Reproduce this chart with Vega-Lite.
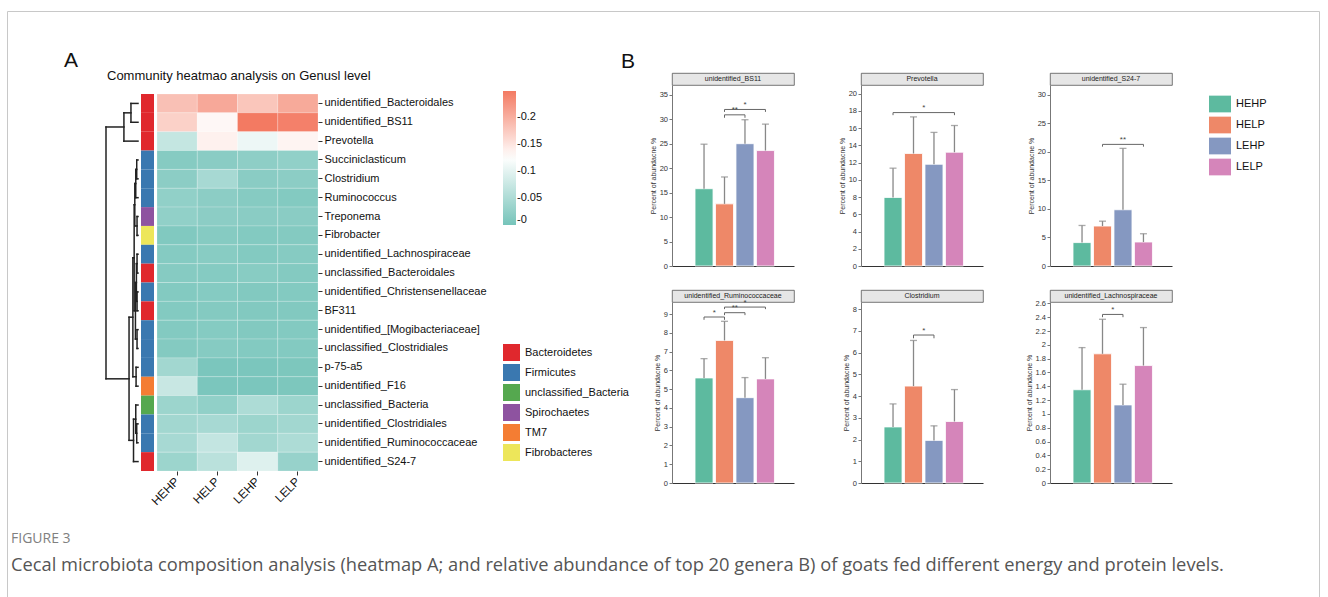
{
"$schema":"https://vega.github.io/schema/vega-lite/v6.json",
"background":"white",
"padding":{"left":6,"top":10,"right":0,"bottom":0},
"autosize":{"type":"pad"},
"config":{
 "view":{"stroke":null},
 "font":"Liberation Sans",
 "axis":{"grid":false,"labelFont":"Liberation Sans","titleFont":"Liberation Sans"},
 "axisLeft":{"domainColor":"#777777","tickColor":"#777777","tickSize":3,"labelFontSize":7.5,"labelColor":"#333333","titleFontSize":7,"titleFontWeight":"normal","titleColor":"#333333","titlePadding":3,"labelPadding":1.5,"labelOverlap":false,"tickCount":40,"labelExpr":"'' + datum.value"},
 "legend":{"labelFont":"Liberation Sans"},
 "title":{"font":"Liberation Sans"}
},
"datasets":{
 "bars":[
  {"genus":"unidentified_BS11","group":"HEHP","gi":0,"mean":15.8,"upper":24.9},
  {"genus":"unidentified_BS11","group":"HELP","gi":1,"mean":12.7,"upper":18.2},
  {"genus":"unidentified_BS11","group":"LEHP","gi":2,"mean":25.0,"upper":29.9},
  {"genus":"unidentified_BS11","group":"LELP","gi":3,"mean":23.6,"upper":29.0},
  {"genus":"Prevotella","group":"HEHP","gi":0,"mean":7.95,"upper":11.35},
  {"genus":"Prevotella","group":"HELP","gi":1,"mean":13.05,"upper":17.3},
  {"genus":"Prevotella","group":"LEHP","gi":2,"mean":11.8,"upper":15.5},
  {"genus":"Prevotella","group":"LELP","gi":3,"mean":13.2,"upper":16.3},
  {"genus":"unidentified_S24-7","group":"HEHP","gi":0,"mean":4.1,"upper":7.1},
  {"genus":"unidentified_S24-7","group":"HELP","gi":1,"mean":7.0,"upper":7.85},
  {"genus":"unidentified_S24-7","group":"LEHP","gi":2,"mean":9.85,"upper":20.6},
  {"genus":"unidentified_S24-7","group":"LELP","gi":3,"mean":4.2,"upper":5.65},
  {"genus":"unidentified_Ruminococcaceae","group":"HEHP","gi":0,"mean":5.6,"upper":6.63},
  {"genus":"unidentified_Ruminococcaceae","group":"HELP","gi":1,"mean":7.6,"upper":8.62},
  {"genus":"unidentified_Ruminococcaceae","group":"LEHP","gi":2,"mean":4.55,"upper":5.62},
  {"genus":"unidentified_Ruminococcaceae","group":"LELP","gi":3,"mean":5.55,"upper":6.68},
  {"genus":"Clostridium","group":"HEHP","gi":0,"mean":2.58,"upper":3.64},
  {"genus":"Clostridium","group":"HELP","gi":1,"mean":4.46,"upper":6.56},
  {"genus":"Clostridium","group":"LEHP","gi":2,"mean":1.96,"upper":2.63},
  {"genus":"Clostridium","group":"LELP","gi":3,"mean":2.83,"upper":4.3},
  {"genus":"unidentified_Lachnospiraceae","group":"HEHP","gi":0,"mean":1.35,"upper":1.96},
  {"genus":"unidentified_Lachnospiraceae","group":"HELP","gi":1,"mean":1.87,"upper":2.37},
  {"genus":"unidentified_Lachnospiraceae","group":"LEHP","gi":2,"mean":1.13,"upper":1.43},
  {"genus":"unidentified_Lachnospiraceae","group":"LELP","gi":3,"mean":1.70,"upper":2.25}
 ],
 "sig":[
  {"genus":"unidentified_BS11","x1":1,"x2":2,"xm":1.5,"yb":30.9,"yt":30.3,"label":"**"},
  {"genus":"unidentified_BS11","x1":1,"x2":3,"xm":2,"yb":32.0,"yt":31.5,"label":"*"},
  {"genus":"Prevotella","x1":0,"x2":3,"xm":1.5,"yb":17.8,"yt":17.5,"label":"*"},
  {"genus":"unidentified_S24-7","x1":1,"x2":3,"xm":2,"yb":21.3,"yt":20.9,"label":"**"},
  {"genus":"unidentified_Ruminococcaceae","x1":0,"x2":1,"xm":0.5,"yb":8.85,"yt":8.7,"label":"*"},
  {"genus":"unidentified_Ruminococcaceae","x1":1,"x2":2,"xm":1.5,"yb":9.08,"yt":8.95,"label":"**"},
  {"genus":"unidentified_Ruminococcaceae","x1":1,"x2":3,"xm":2,"yb":9.38,"yt":9.27,"label":"*"},
  {"genus":"Clostridium","x1":1,"x2":2,"xm":1.5,"yb":6.81,"yt":6.66,"label":"*"},
  {"genus":"unidentified_Lachnospiraceae","x1":1,"x2":2,"xm":1.5,"yb":2.44,"yt":2.40,"label":"*"}
 ],
 "phylum":[
  {"genus":"unidentified_Bacteroidales","phylum":"Bacteroidetes"},
  {"genus":"unidentified_BS11","phylum":"Bacteroidetes"},
  {"genus":"Prevotella","phylum":"Bacteroidetes"},
  {"genus":"Succiniclasticum","phylum":"Firmicutes"},
  {"genus":"Clostridium","phylum":"Firmicutes"},
  {"genus":"Ruminococcus","phylum":"Firmicutes"},
  {"genus":"Treponema","phylum":"Spirochaetes"},
  {"genus":"Fibrobacter","phylum":"Fibrobacteres"},
  {"genus":"unidentified_Lachnospiraceae","phylum":"Firmicutes"},
  {"genus":"unclassified_Bacteroidales","phylum":"Bacteroidetes"},
  {"genus":"unidentified_Christensenellaceae","phylum":"Firmicutes"},
  {"genus":"BF311","phylum":"Bacteroidetes"},
  {"genus":"unidentified_[Mogibacteriaceae]","phylum":"Firmicutes"},
  {"genus":"unclassified_Clostridiales","phylum":"Firmicutes"},
  {"genus":"p-75-a5","phylum":"Firmicutes"},
  {"genus":"unidentified_F16","phylum":"TM7"},
  {"genus":"unclassified_Bacteria","phylum":"unclassified_Bacteria"},
  {"genus":"unidentified_Clostridiales","phylum":"Firmicutes"},
  {"genus":"unidentified_Ruminococcaceae","phylum":"Firmicutes"},
  {"genus":"unidentified_S24-7","phylum":"Bacteroidetes"}
 ],
 "heat":[
  {"genus":"unidentified_Bacteroidales","group":"HEHP","value":0.183},{"genus":"unidentified_Bacteroidales","group":"HELP","value":0.205},{"genus":"unidentified_Bacteroidales","group":"LEHP","value":0.178},{"genus":"unidentified_Bacteroidales","group":"LELP","value":0.204},
  {"genus":"unidentified_BS11","group":"HEHP","value":0.168},{"genus":"unidentified_BS11","group":"HELP","value":0.132},{"genus":"unidentified_BS11","group":"LEHP","value":0.248},{"genus":"unidentified_BS11","group":"LELP","value":0.242},
  {"genus":"Prevotella","group":"HEHP","value":0.071},{"genus":"Prevotella","group":"HELP","value":0.138},{"genus":"Prevotella","group":"LEHP","value":0.109},{"genus":"Prevotella","group":"LELP","value":0.135},
  {"genus":"Succiniclasticum","group":"HEHP","value":0.015},{"genus":"Succiniclasticum","group":"HELP","value":0.018},{"genus":"Succiniclasticum","group":"LEHP","value":0.022},{"genus":"Succiniclasticum","group":"LELP","value":0.025},
  {"genus":"Clostridium","group":"HEHP","value":0.020},{"genus":"Clostridium","group":"HELP","value":0.045},{"genus":"Clostridium","group":"LEHP","value":0.018},{"genus":"Clostridium","group":"LELP","value":0.020},
  {"genus":"Ruminococcus","group":"HEHP","value":0.025},{"genus":"Ruminococcus","group":"HELP","value":0.020},{"genus":"Ruminococcus","group":"LEHP","value":0.015},{"genus":"Ruminococcus","group":"LELP","value":0.012},
  {"genus":"Treponema","group":"HEHP","value":0.025},{"genus":"Treponema","group":"HELP","value":0.020},{"genus":"Treponema","group":"LEHP","value":0.018},{"genus":"Treponema","group":"LELP","value":0.018},
  {"genus":"Fibrobacter","group":"HEHP","value":0.010},{"genus":"Fibrobacter","group":"HELP","value":0.015},{"genus":"Fibrobacter","group":"LEHP","value":0.012},{"genus":"Fibrobacter","group":"LELP","value":0.013},
  {"genus":"unidentified_Lachnospiraceae","group":"HEHP","value":0.014},{"genus":"unidentified_Lachnospiraceae","group":"HELP","value":0.016},{"genus":"unidentified_Lachnospiraceae","group":"LEHP","value":0.012},{"genus":"unidentified_Lachnospiraceae","group":"LELP","value":0.015},
  {"genus":"unclassified_Bacteroidales","group":"HEHP","value":0.015},{"genus":"unclassified_Bacteroidales","group":"HELP","value":0.014},{"genus":"unclassified_Bacteroidales","group":"LEHP","value":0.016},{"genus":"unclassified_Bacteroidales","group":"LELP","value":0.013},
  {"genus":"unidentified_Christensenellaceae","group":"HEHP","value":0.012},{"genus":"unidentified_Christensenellaceae","group":"HELP","value":0.014},{"genus":"unidentified_Christensenellaceae","group":"LEHP","value":0.011},{"genus":"unidentified_Christensenellaceae","group":"LELP","value":0.012},
  {"genus":"BF311","group":"HEHP","value":0.012},{"genus":"BF311","group":"HELP","value":0.013},{"genus":"BF311","group":"LEHP","value":0.011},{"genus":"BF311","group":"LELP","value":0.011},
  {"genus":"unidentified_[Mogibacteriaceae]","group":"HEHP","value":0.012},{"genus":"unidentified_[Mogibacteriaceae]","group":"HELP","value":0.014},{"genus":"unidentified_[Mogibacteriaceae]","group":"LEHP","value":0.011},{"genus":"unidentified_[Mogibacteriaceae]","group":"LELP","value":0.012},
  {"genus":"unclassified_Clostridiales","group":"HEHP","value":0.013},{"genus":"unclassified_Clostridiales","group":"HELP","value":0.015},{"genus":"unclassified_Clostridiales","group":"LEHP","value":0.012},{"genus":"unclassified_Clostridiales","group":"LELP","value":0.012},
  {"genus":"p-75-a5","group":"HEHP","value":0.040},{"genus":"p-75-a5","group":"HELP","value":0.005},{"genus":"p-75-a5","group":"LEHP","value":0.005},{"genus":"p-75-a5","group":"LELP","value":0.006},
  {"genus":"unidentified_F16","group":"HEHP","value":0.075},{"genus":"unidentified_F16","group":"HELP","value":0.005},{"genus":"unidentified_F16","group":"LEHP","value":0.005},{"genus":"unidentified_F16","group":"LELP","value":0.006},
  {"genus":"unclassified_Bacteria","group":"HEHP","value":0.035},{"genus":"unclassified_Bacteria","group":"HELP","value":0.025},{"genus":"unclassified_Bacteria","group":"LEHP","value":0.050},{"genus":"unclassified_Bacteria","group":"LELP","value":0.035},
  {"genus":"unidentified_Clostridiales","group":"HEHP","value":0.040},{"genus":"unidentified_Clostridiales","group":"HELP","value":0.045},{"genus":"unidentified_Clostridiales","group":"LEHP","value":0.035},{"genus":"unidentified_Clostridiales","group":"LELP","value":0.040},
  {"genus":"unidentified_Ruminococcaceae","group":"HEHP","value":0.045},{"genus":"unidentified_Ruminococcaceae","group":"HELP","value":0.070},{"genus":"unidentified_Ruminococcaceae","group":"LEHP","value":0.040},{"genus":"unidentified_Ruminococcaceae","group":"LELP","value":0.050},
  {"genus":"unidentified_S24-7","group":"HEHP","value":0.035},{"genus":"unidentified_S24-7","group":"HELP","value":0.062},{"genus":"unidentified_S24-7","group":"LEHP","value":0.095},{"genus":"unidentified_S24-7","group":"LELP","value":0.030}
 ],
 "dendro":[
  {"h1":0.22,"h2":0.22,"p1":0.5,"p2":1.5},{"h1":0,"h2":0.22,"p1":0.5,"p2":0.5},{"h1":0,"h2":0.22,"p1":1.5,"p2":1.5},
  {"h1":0.44,"h2":0.44,"p1":1.0,"p2":2.5},{"h1":0.22,"h2":0.44,"p1":1.0,"p2":1.0},{"h1":0,"h2":0.44,"p1":2.5,"p2":2.5},
  {"h1":0.04,"h2":0.04,"p1":3.5,"p2":4.5},{"h1":0,"h2":0.04,"p1":3.5,"p2":3.5},{"h1":0,"h2":0.04,"p1":4.5,"p2":4.5},
  {"h1":0.07,"h2":0.07,"p1":4.0,"p2":5.5},{"h1":0.04,"h2":0.07,"p1":4.0,"p2":4.0},{"h1":0,"h2":0.07,"p1":5.5,"p2":5.5},
  {"h1":0.03,"h2":0.03,"p1":6.5,"p2":7.5},{"h1":0,"h2":0.03,"p1":6.5,"p2":6.5},{"h1":0,"h2":0.03,"p1":7.5,"p2":7.5},
  {"h1":0.10,"h2":0.10,"p1":4.75,"p2":7.0},{"h1":0.07,"h2":0.10,"p1":4.75,"p2":4.75},{"h1":0.03,"h2":0.10,"p1":7.0,"p2":7.0},
  {"h1":0.03,"h2":0.03,"p1":8.5,"p2":9.5},{"h1":0,"h2":0.03,"p1":8.5,"p2":8.5},{"h1":0,"h2":0.03,"p1":9.5,"p2":9.5},
  {"h1":0.03,"h2":0.03,"p1":10.5,"p2":11.5},{"h1":0,"h2":0.03,"p1":10.5,"p2":10.5},{"h1":0,"h2":0.03,"p1":11.5,"p2":11.5},
  {"h1":0.05,"h2":0.05,"p1":9.0,"p2":11.0},{"h1":0.03,"h2":0.05,"p1":9.0,"p2":9.0},{"h1":0.03,"h2":0.05,"p1":11.0,"p2":11.0},
  {"h1":0.03,"h2":0.03,"p1":12.5,"p2":13.5},{"h1":0,"h2":0.03,"p1":12.5,"p2":12.5},{"h1":0,"h2":0.03,"p1":13.5,"p2":13.5},
  {"h1":0.08,"h2":0.08,"p1":10.0,"p2":13.0},{"h1":0.05,"h2":0.08,"p1":10.0,"p2":10.0},{"h1":0.03,"h2":0.08,"p1":13.0,"p2":13.0},
  {"h1":0.12,"h2":0.12,"p1":5.875,"p2":11.5},{"h1":0.10,"h2":0.12,"p1":5.875,"p2":5.875},{"h1":0.08,"h2":0.12,"p1":11.5,"p2":11.5},
  {"h1":0.06,"h2":0.06,"p1":14.5,"p2":15.5},{"h1":0,"h2":0.06,"p1":14.5,"p2":14.5},{"h1":0,"h2":0.06,"p1":15.5,"p2":15.5},
  {"h1":0.16,"h2":0.16,"p1":8.69,"p2":15.0},{"h1":0.12,"h2":0.16,"p1":8.69,"p2":8.69},{"h1":0.06,"h2":0.16,"p1":15.0,"p2":15.0},
  {"h1":0.04,"h2":0.04,"p1":17.5,"p2":18.5},{"h1":0,"h2":0.04,"p1":17.5,"p2":17.5},{"h1":0,"h2":0.04,"p1":18.5,"p2":18.5},
  {"h1":0.07,"h2":0.07,"p1":16.5,"p2":18.0},{"h1":0,"h2":0.07,"p1":16.5,"p2":16.5},{"h1":0.04,"h2":0.07,"p1":18.0,"p2":18.0},
  {"h1":0.14,"h2":0.14,"p1":17.25,"p2":19.5},{"h1":0.07,"h2":0.14,"p1":17.25,"p2":17.25},{"h1":0,"h2":0.14,"p1":19.5,"p2":19.5},
  {"h1":0.28,"h2":0.28,"p1":11.84,"p2":18.375},{"h1":0.16,"h2":0.28,"p1":11.84,"p2":11.84},{"h1":0.14,"h2":0.28,"p1":18.375,"p2":18.375},
  {"h1":1,"h2":1,"p1":1.75,"p2":15.11},{"h1":0.44,"h2":1,"p1":1.75,"p2":1.75},{"h1":0.28,"h2":1,"p1":15.11,"p2":15.11}
 ]
},
"bounds":"flush","spacing":0,"resolve":{"scale":{"color":"independent"}},
"vconcat":[
 {"bounds":"flush","spacing":0,"resolve":{"scale":{"color":"independent"}},
  "hconcat":[
   {"width":99,"height":1,"data":{"values":[]},"mark":"point"},
   {"bounds":"flush","spacing":0,"resolve":{"scale":{"color":"independent"}},
    "vconcat":[
     {"width":1,"height":83,"data":{"values":[]},"mark":"point"},
     {"bounds":"flush","spacing":3,"resolve":{"scale":{"color":"independent"}},
      "hconcat":[
       {"width":32,"height":377,"data":{"name":"dendro"},
        "title":{"text":"A","anchor":"start","frame":"group","dx":-42,"offset":6,"baseline":"alphabetic","fontSize":21,"fontWeight":"normal","color":"#111111"},
        "mark":{"type":"rule","color":"#222222","strokeWidth":1.5,"strokeCap":"square"},
        "encoding":{
         "x":{"field":"h1","type":"quantitative","scale":{"domain":[0,1],"reverse":true,"nice":false,"zero":false},"axis":null},
         "x2":{"field":"h2"},
         "y":{"field":"p1","type":"quantitative","scale":{"domain":[0,20],"reverse":true,"nice":false,"zero":false},"axis":null},
         "y2":{"field":"p2"}
        }},
       {"width":13,"height":377,"data":{"name":"phylum"},
        "mark":{"type":"rect"},
        "encoding":{
         "y":{"field":"genus","type":"nominal","scale":{"domain":["unidentified_Bacteroidales","unidentified_BS11","Prevotella","Succiniclasticum","Clostridium","Ruminococcus","Treponema","Fibrobacter","unidentified_Lachnospiraceae","unclassified_Bacteroidales","unidentified_Christensenellaceae","BF311","unidentified_[Mogibacteriaceae]","unclassified_Clostridiales","p-75-a5","unidentified_F16","unclassified_Bacteria","unidentified_Clostridiales","unidentified_Ruminococcaceae","unidentified_S24-7"],"paddingInner":0,"paddingOuter":0},"axis":null},
         "color":{"field":"phylum","type":"nominal",
          "scale":{"domain":["Bacteroidetes","Firmicutes","unclassified_Bacteria","Spirochaetes","TM7","Fibrobacteres"],"range":["#e0282d","#3a78b0","#55a84f","#8e53a0","#f47d33","#ede65a"]},
          "legend":{"orient":"none","legendX":362,"legendY":250,"title":null,"symbolType":"square","symbolSize":289,"symbolStrokeWidth":0,"symbolOpacity":1,"labelFontSize":11,"labelOffset":5,"rowPadding":3,"padding":0,"labelColor":"#111111"}}
        }},
       {"width":161,"height":377,"data":{"name":"heat"},
        "title":{"text":"Community heatmao analysis on Genusl level","anchor":"start","frame":"group","dx":-50,"offset":-2,"baseline":"alphabetic","fontSize":13,"fontWeight":"normal","color":"#111111"},
        "mark":{"type":"rect","stroke":"#ffffff","strokeWidth":0.4,"strokeOpacity":0.5},
        "encoding":{
         "x":{"field":"group","type":"nominal","scale":{"domain":["HEHP","HELP","LEHP","LELP"],"paddingInner":0,"paddingOuter":0},
          "axis":{"orient":"bottom","title":null,"labelAngle":-45,"labelBaseline":"middle","labelFontSize":12,"tickSize":4,"domain":false,"labelColor":"#111111","tickColor":"#333333","labelPadding":4}},
         "y":{"field":"genus","type":"nominal","scale":{"domain":["unidentified_Bacteroidales","unidentified_BS11","Prevotella","Succiniclasticum","Clostridium","Ruminococcus","Treponema","Fibrobacter","unidentified_Lachnospiraceae","unclassified_Bacteroidales","unidentified_Christensenellaceae","BF311","unidentified_[Mogibacteriaceae]","unclassified_Clostridiales","p-75-a5","unidentified_F16","unclassified_Bacteria","unidentified_Clostridiales","unidentified_Ruminococcaceae","unidentified_S24-7"],"paddingInner":0,"paddingOuter":0},
          "axis":{"orient":"right","title":null,"labelFontSize":11,"tickSize":4,"domain":false,"labelPadding":2,"labelColor":"#111111","tickColor":"#333333"}},
         "color":{"field":"value","type":"quantitative",
          "scale":{"domain":[0,0.125,0.248],"range":["#76c4ba","#ffffff","#f37a62"],"interpolate":"rgb"},
          "legend":{"orient":"none","legendX":346,"legendY":-3,"direction":"vertical","title":null,"gradientLength":134,"gradientThickness":13,"values":[0,0.05,0.1,0.15,0.2],"labelExpr":"'-' + datum.value","labelFontSize":11,"labelOffset":1,"labelColor":"#111111","labelOverlap":false,"gradientStrokeWidth":0,"padding":0}}
        }}
      ]}
    ]},
   {"width":566,"height":1,"data":{"values":[]},"mark":"point"},
   {"bounds":"flush","spacing":0,"resolve":{"scale":{"color":"independent"}},
    "vconcat":[
     {"width":1,"height":62,"data":{"values":[]},"mark":"point"},
     {"bounds":"flush","spacing":217,"resolve":{"scale":{"color":"independent"}},
      "vconcat":[
       {"bounds":"flush","spacing":189,"resolve":{"scale":{"color":"independent"}},
        "hconcat":[
         {"bounds":"flush","spacing":0,"resolve":{"scale":{"color":"independent"}},
          "vconcat":[
           {"width":122,"height":12,"view":{"fill":"#e6e6e6","stroke":"#555555","strokeWidth":0.8},
            "title":{"text":"B","anchor":"start","frame":"group","dx":-51,"offset":-16,"baseline":"alphabetic","fontSize":21,"fontWeight":"normal","color":"#111111"},
            "data":{"values":[{"t":"unidentified_BS11"}]},"mark":{"type":"text","fontSize":7,"color":"#222222"},"encoding":{"text":{"field":"t"}}},
           {"width":122,"height":181,
            "layer":[
             {"data":{"name":"bars"},"transform":[{"filter":"datum.genus == 'unidentified_BS11'"}],
              "mark":{"type":"bar","orient":"vertical","width":18,"stroke":"#ffffff","strokeWidth":0.8},
              "encoding":{
               "x":{"field":"gi","type":"quantitative","scale":{"domain":[-1.32,4.15],"nice":false,"zero":false},"axis":{"title":null,"labels":false,"ticks":false,"domain":true,"domainColor":"#333333"}},
               "y":{"field":"mean","type":"quantitative","scale":{"domain":[0,37],"nice":false},"axis":{"values":[0,5,10,15,20,25,30,35],"tickCount":40,"labelOverlap":false,"title":"Percent of abundacne %"}},
               "color":{"field":"group","type":"nominal","scale":{"domain":["HEHP","HELP","LEHP","LELP"],"range":["#5dba9f","#ee8868","#8598c1","#d585ba"]},"legend":null}}},
             {"data":{"name":"bars"},"transform":[{"filter":"datum.genus == 'unidentified_BS11'"}],
              "mark":{"type":"rule","color":"#888888","strokeWidth":1.3},
              "encoding":{"x":{"field":"gi","type":"quantitative"},"y":{"field":"mean","type":"quantitative"},"y2":{"field":"upper"}}},
             {"data":{"name":"bars"},"transform":[{"filter":"datum.genus == 'unidentified_BS11'"}],
              "mark":{"type":"tick","orient":"horizontal","size":7,"thickness":1.3,"color":"#888888"},
              "encoding":{"x":{"field":"gi","type":"quantitative"},"y":{"field":"upper","type":"quantitative"}}},
             {"data":{"name":"sig"},"transform":[{"filter":"datum.genus == 'unidentified_BS11'"}],
              "mark":{"type":"rule","color":"#666666","strokeWidth":1},
              "encoding":{"x":{"field":"x1","type":"quantitative"},"x2":{"field":"x2"},"y":{"field":"yb","type":"quantitative"}}},
             {"data":{"name":"sig"},"transform":[{"filter":"datum.genus == 'unidentified_BS11'"}],
              "mark":{"type":"rule","color":"#666666","strokeWidth":1},
              "encoding":{"x":{"field":"x1","type":"quantitative"},"y":{"field":"yb","type":"quantitative"},"y2":{"field":"yt"}}},
             {"data":{"name":"sig"},"transform":[{"filter":"datum.genus == 'unidentified_BS11'"}],
              "mark":{"type":"rule","color":"#666666","strokeWidth":1},
              "encoding":{"x":{"field":"x2","type":"quantitative"},"y":{"field":"yb","type":"quantitative"},"y2":{"field":"yt"}}},
             {"data":{"name":"sig"},"transform":[{"filter":"datum.genus == 'unidentified_BS11'"}],
              "mark":{"type":"text","baseline":"bottom","dy":-0.5,"fontSize":8,"color":"#444444"},
              "encoding":{"x":{"field":"xm","type":"quantitative"},"y":{"field":"yb","type":"quantitative"},"text":{"field":"label"}}}
            ]}
          ]},
         {"bounds":"flush","spacing":0,"resolve":{"scale":{"color":"independent"}},
          "vconcat":[
           {"width":122,"height":12,"view":{"fill":"#e6e6e6","stroke":"#555555","strokeWidth":0.8},
            "data":{"values":[{"t":"Prevotella"}]},"mark":{"type":"text","fontSize":7,"color":"#222222"},"encoding":{"text":{"field":"t"}}},
           {"width":122,"height":181,
            "layer":[
             {"data":{"name":"bars"},"transform":[{"filter":"datum.genus == 'Prevotella'"}],
              "mark":{"type":"bar","orient":"vertical","width":18,"stroke":"#ffffff","strokeWidth":0.8},
              "encoding":{
               "x":{"field":"gi","type":"quantitative","scale":{"domain":[-1.32,4.15],"nice":false,"zero":false},"axis":{"title":null,"labels":false,"ticks":false,"domain":true,"domainColor":"#333333"}},
               "y":{"field":"mean","type":"quantitative","scale":{"domain":[0,21],"nice":false},"axis":{"values":[0,2,4,6,8,10,12,14,16,18,20],"tickCount":40,"labelOverlap":false,"title":"Percent of abundacne %"}},
               "color":{"field":"group","type":"nominal","scale":{"domain":["HEHP","HELP","LEHP","LELP"],"range":["#5dba9f","#ee8868","#8598c1","#d585ba"]},"legend":null}}},
             {"data":{"name":"bars"},"transform":[{"filter":"datum.genus == 'Prevotella'"}],
              "mark":{"type":"rule","color":"#888888","strokeWidth":1.3},
              "encoding":{"x":{"field":"gi","type":"quantitative"},"y":{"field":"mean","type":"quantitative"},"y2":{"field":"upper"}}},
             {"data":{"name":"bars"},"transform":[{"filter":"datum.genus == 'Prevotella'"}],
              "mark":{"type":"tick","orient":"horizontal","size":7,"thickness":1.3,"color":"#888888"},
              "encoding":{"x":{"field":"gi","type":"quantitative"},"y":{"field":"upper","type":"quantitative"}}},
             {"data":{"name":"sig"},"transform":[{"filter":"datum.genus == 'Prevotella'"}],
              "mark":{"type":"rule","color":"#666666","strokeWidth":1},
              "encoding":{"x":{"field":"x1","type":"quantitative"},"x2":{"field":"x2"},"y":{"field":"yb","type":"quantitative"}}},
             {"data":{"name":"sig"},"transform":[{"filter":"datum.genus == 'Prevotella'"}],
              "mark":{"type":"rule","color":"#666666","strokeWidth":1},
              "encoding":{"x":{"field":"x1","type":"quantitative"},"y":{"field":"yb","type":"quantitative"},"y2":{"field":"yt"}}},
             {"data":{"name":"sig"},"transform":[{"filter":"datum.genus == 'Prevotella'"}],
              "mark":{"type":"rule","color":"#666666","strokeWidth":1},
              "encoding":{"x":{"field":"x2","type":"quantitative"},"y":{"field":"yb","type":"quantitative"},"y2":{"field":"yt"}}},
             {"data":{"name":"sig"},"transform":[{"filter":"datum.genus == 'Prevotella'"}],
              "mark":{"type":"text","baseline":"bottom","dy":-0.5,"fontSize":8,"color":"#444444"},
              "encoding":{"x":{"field":"xm","type":"quantitative"},"y":{"field":"yb","type":"quantitative"},"text":{"field":"label"}}}
            ]}
          ]},
         {"bounds":"flush","spacing":0,"resolve":{"scale":{"color":"independent"}},
          "vconcat":[
           {"width":122,"height":12,"view":{"fill":"#e6e6e6","stroke":"#555555","strokeWidth":0.8},
            "data":{"values":[{"t":"unidentified_S24-7"}]},"mark":{"type":"text","fontSize":7,"color":"#222222"},"encoding":{"text":{"field":"t"}}},
           {"width":122,"height":181,
            "layer":[
             {"data":{"name":"bars"},"transform":[{"filter":"datum.genus == 'unidentified_S24-7'"}],
              "mark":{"type":"bar","orient":"vertical","width":18,"stroke":"#ffffff","strokeWidth":0.8},
              "encoding":{
               "x":{"field":"gi","type":"quantitative","scale":{"domain":[-1.32,4.15],"nice":false,"zero":false},"axis":{"title":null,"labels":false,"ticks":false,"domain":true,"domainColor":"#333333"}},
               "y":{"field":"mean","type":"quantitative","scale":{"domain":[0,31.7],"nice":false},"axis":{"values":[0,5,10,15,20,25,30],"tickCount":40,"labelOverlap":false,"title":"Percent of abundacne %"}},
               "color":{"field":"group","type":"nominal","scale":{"domain":["HEHP","HELP","LEHP","LELP"],"range":["#5dba9f","#ee8868","#8598c1","#d585ba"]},
                "legend":{"orient":"none","legendX":159,"legendY":8,"title":null,"symbolType":"M-1,-0.76H1V0.76H-1Z","symbolSize":484,"symbolStrokeWidth":0,"symbolOpacity":1,"labelFontSize":11,"labelOffset":5,"rowPadding":1,"padding":0,"labelColor":"#111111"}}}},
             {"data":{"name":"bars"},"transform":[{"filter":"datum.genus == 'unidentified_S24-7'"}],
              "mark":{"type":"rule","color":"#888888","strokeWidth":1.3},
              "encoding":{"x":{"field":"gi","type":"quantitative"},"y":{"field":"mean","type":"quantitative"},"y2":{"field":"upper"}}},
             {"data":{"name":"bars"},"transform":[{"filter":"datum.genus == 'unidentified_S24-7'"}],
              "mark":{"type":"tick","orient":"horizontal","size":7,"thickness":1.3,"color":"#888888"},
              "encoding":{"x":{"field":"gi","type":"quantitative"},"y":{"field":"upper","type":"quantitative"}}},
             {"data":{"name":"sig"},"transform":[{"filter":"datum.genus == 'unidentified_S24-7'"}],
              "mark":{"type":"rule","color":"#666666","strokeWidth":1},
              "encoding":{"x":{"field":"x1","type":"quantitative"},"x2":{"field":"x2"},"y":{"field":"yb","type":"quantitative"}}},
             {"data":{"name":"sig"},"transform":[{"filter":"datum.genus == 'unidentified_S24-7'"}],
              "mark":{"type":"rule","color":"#666666","strokeWidth":1},
              "encoding":{"x":{"field":"x1","type":"quantitative"},"y":{"field":"yb","type":"quantitative"},"y2":{"field":"yt"}}},
             {"data":{"name":"sig"},"transform":[{"filter":"datum.genus == 'unidentified_S24-7'"}],
              "mark":{"type":"rule","color":"#666666","strokeWidth":1},
              "encoding":{"x":{"field":"x2","type":"quantitative"},"y":{"field":"yb","type":"quantitative"},"y2":{"field":"yt"}}},
             {"data":{"name":"sig"},"transform":[{"filter":"datum.genus == 'unidentified_S24-7'"}],
              "mark":{"type":"text","baseline":"bottom","dy":-0.5,"fontSize":8,"color":"#444444"},
              "encoding":{"x":{"field":"xm","type":"quantitative"},"y":{"field":"yb","type":"quantitative"},"text":{"field":"label"}}}
            ]}
          ]}
        ]},
       {"bounds":"flush","spacing":189,"resolve":{"scale":{"color":"independent"}},
        "hconcat":[
         {"bounds":"flush","spacing":0,"resolve":{"scale":{"color":"independent"}},
          "vconcat":[
           {"width":122,"height":12,"view":{"fill":"#e6e6e6","stroke":"#555555","strokeWidth":0.8},
            "data":{"values":[{"t":"unidentified_Ruminococcaceae"}]},"mark":{"type":"text","fontSize":7,"color":"#222222"},"encoding":{"text":{"field":"t"}}},
           {"width":122,"height":181,
            "layer":[
             {"data":{"name":"bars"},"transform":[{"filter":"datum.genus == 'unidentified_Ruminococcaceae'"}],
              "mark":{"type":"bar","orient":"vertical","width":18,"stroke":"#ffffff","strokeWidth":0.8},
              "encoding":{
               "x":{"field":"gi","type":"quantitative","scale":{"domain":[-1.32,4.15],"nice":false,"zero":false},"axis":{"title":null,"labels":false,"ticks":false,"domain":true,"domainColor":"#333333"}},
               "y":{"field":"mean","type":"quantitative","scale":{"domain":[0,9.65],"nice":false},"axis":{"values":[0,1,2,3,4,5,6,7,8,9],"tickCount":40,"labelOverlap":false,"title":"Percent of abundacne %"}},
               "color":{"field":"group","type":"nominal","scale":{"domain":["HEHP","HELP","LEHP","LELP"],"range":["#5dba9f","#ee8868","#8598c1","#d585ba"]},"legend":null}}},
             {"data":{"name":"bars"},"transform":[{"filter":"datum.genus == 'unidentified_Ruminococcaceae'"}],
              "mark":{"type":"rule","color":"#888888","strokeWidth":1.3},
              "encoding":{"x":{"field":"gi","type":"quantitative"},"y":{"field":"mean","type":"quantitative"},"y2":{"field":"upper"}}},
             {"data":{"name":"bars"},"transform":[{"filter":"datum.genus == 'unidentified_Ruminococcaceae'"}],
              "mark":{"type":"tick","orient":"horizontal","size":7,"thickness":1.3,"color":"#888888"},
              "encoding":{"x":{"field":"gi","type":"quantitative"},"y":{"field":"upper","type":"quantitative"}}},
             {"data":{"name":"sig"},"transform":[{"filter":"datum.genus == 'unidentified_Ruminococcaceae'"}],
              "mark":{"type":"rule","color":"#666666","strokeWidth":1},
              "encoding":{"x":{"field":"x1","type":"quantitative"},"x2":{"field":"x2"},"y":{"field":"yb","type":"quantitative"}}},
             {"data":{"name":"sig"},"transform":[{"filter":"datum.genus == 'unidentified_Ruminococcaceae'"}],
              "mark":{"type":"rule","color":"#666666","strokeWidth":1},
              "encoding":{"x":{"field":"x1","type":"quantitative"},"y":{"field":"yb","type":"quantitative"},"y2":{"field":"yt"}}},
             {"data":{"name":"sig"},"transform":[{"filter":"datum.genus == 'unidentified_Ruminococcaceae'"}],
              "mark":{"type":"rule","color":"#666666","strokeWidth":1},
              "encoding":{"x":{"field":"x2","type":"quantitative"},"y":{"field":"yb","type":"quantitative"},"y2":{"field":"yt"}}},
             {"data":{"name":"sig"},"transform":[{"filter":"datum.genus == 'unidentified_Ruminococcaceae'"}],
              "mark":{"type":"text","baseline":"bottom","dy":-0.5,"fontSize":8,"color":"#444444"},
              "encoding":{"x":{"field":"xm","type":"quantitative"},"y":{"field":"yb","type":"quantitative"},"text":{"field":"label"}}}
            ]}
          ]},
         {"bounds":"flush","spacing":0,"resolve":{"scale":{"color":"independent"}},
          "vconcat":[
           {"width":122,"height":12,"view":{"fill":"#e6e6e6","stroke":"#555555","strokeWidth":0.8},
            "data":{"values":[{"t":"Clostridium"}]},"mark":{"type":"text","fontSize":7,"color":"#222222"},"encoding":{"text":{"field":"t"}}},
           {"width":122,"height":181,
            "layer":[
             {"data":{"name":"bars"},"transform":[{"filter":"datum.genus == 'Clostridium'"}],
              "mark":{"type":"bar","orient":"vertical","width":18,"stroke":"#ffffff","strokeWidth":0.8},
              "encoding":{
               "x":{"field":"gi","type":"quantitative","scale":{"domain":[-1.32,4.15],"nice":false,"zero":false},"axis":{"title":null,"labels":false,"ticks":false,"domain":true,"domainColor":"#333333"}},
               "y":{"field":"mean","type":"quantitative","scale":{"domain":[0,8.33],"nice":false},"axis":{"values":[0,1,2,3,4,5,6,7,8],"tickCount":40,"labelOverlap":false,"title":"Percent of abundacne %"}},
               "color":{"field":"group","type":"nominal","scale":{"domain":["HEHP","HELP","LEHP","LELP"],"range":["#5dba9f","#ee8868","#8598c1","#d585ba"]},"legend":null}}},
             {"data":{"name":"bars"},"transform":[{"filter":"datum.genus == 'Clostridium'"}],
              "mark":{"type":"rule","color":"#888888","strokeWidth":1.3},
              "encoding":{"x":{"field":"gi","type":"quantitative"},"y":{"field":"mean","type":"quantitative"},"y2":{"field":"upper"}}},
             {"data":{"name":"bars"},"transform":[{"filter":"datum.genus == 'Clostridium'"}],
              "mark":{"type":"tick","orient":"horizontal","size":7,"thickness":1.3,"color":"#888888"},
              "encoding":{"x":{"field":"gi","type":"quantitative"},"y":{"field":"upper","type":"quantitative"}}},
             {"data":{"name":"sig"},"transform":[{"filter":"datum.genus == 'Clostridium'"}],
              "mark":{"type":"rule","color":"#666666","strokeWidth":1},
              "encoding":{"x":{"field":"x1","type":"quantitative"},"x2":{"field":"x2"},"y":{"field":"yb","type":"quantitative"}}},
             {"data":{"name":"sig"},"transform":[{"filter":"datum.genus == 'Clostridium'"}],
              "mark":{"type":"rule","color":"#666666","strokeWidth":1},
              "encoding":{"x":{"field":"x1","type":"quantitative"},"y":{"field":"yb","type":"quantitative"},"y2":{"field":"yt"}}},
             {"data":{"name":"sig"},"transform":[{"filter":"datum.genus == 'Clostridium'"}],
              "mark":{"type":"rule","color":"#666666","strokeWidth":1},
              "encoding":{"x":{"field":"x2","type":"quantitative"},"y":{"field":"yb","type":"quantitative"},"y2":{"field":"yt"}}},
             {"data":{"name":"sig"},"transform":[{"filter":"datum.genus == 'Clostridium'"}],
              "mark":{"type":"text","baseline":"bottom","dy":-0.5,"fontSize":8,"color":"#444444"},
              "encoding":{"x":{"field":"xm","type":"quantitative"},"y":{"field":"yb","type":"quantitative"},"text":{"field":"label"}}}
            ]}
          ]},
         {"bounds":"flush","spacing":0,"resolve":{"scale":{"color":"independent"}},
          "vconcat":[
           {"width":122,"height":12,"view":{"fill":"#e6e6e6","stroke":"#555555","strokeWidth":0.8},
            "data":{"values":[{"t":"unidentified_Lachnospiraceae"}]},"mark":{"type":"text","fontSize":7,"color":"#222222"},"encoding":{"text":{"field":"t"}}},
           {"width":122,"height":181,
            "layer":[
             {"data":{"name":"bars"},"transform":[{"filter":"datum.genus == 'unidentified_Lachnospiraceae'"}],
              "mark":{"type":"bar","orient":"vertical","width":18,"stroke":"#ffffff","strokeWidth":0.8},
              "encoding":{
               "x":{"field":"gi","type":"quantitative","scale":{"domain":[-1.32,4.15],"nice":false,"zero":false},"axis":{"title":null,"labels":false,"ticks":false,"domain":true,"domainColor":"#333333"}},
               "y":{"field":"mean","type":"quantitative","scale":{"domain":[0,2.62],"nice":false},"axis":{"values":[0,0.2,0.4,0.6,0.8,1,1.2,1.4,1.6,1.8,2,2.2,2.4,2.6],"tickCount":40,"labelOverlap":false,"title":"Percent of abundacne %"}},
               "color":{"field":"group","type":"nominal","scale":{"domain":["HEHP","HELP","LEHP","LELP"],"range":["#5dba9f","#ee8868","#8598c1","#d585ba"]},"legend":null}}},
             {"data":{"name":"bars"},"transform":[{"filter":"datum.genus == 'unidentified_Lachnospiraceae'"}],
              "mark":{"type":"rule","color":"#888888","strokeWidth":1.3},
              "encoding":{"x":{"field":"gi","type":"quantitative"},"y":{"field":"mean","type":"quantitative"},"y2":{"field":"upper"}}},
             {"data":{"name":"bars"},"transform":[{"filter":"datum.genus == 'unidentified_Lachnospiraceae'"}],
              "mark":{"type":"tick","orient":"horizontal","size":7,"thickness":1.3,"color":"#888888"},
              "encoding":{"x":{"field":"gi","type":"quantitative"},"y":{"field":"upper","type":"quantitative"}}},
             {"data":{"name":"sig"},"transform":[{"filter":"datum.genus == 'unidentified_Lachnospiraceae'"}],
              "mark":{"type":"rule","color":"#666666","strokeWidth":1},
              "encoding":{"x":{"field":"x1","type":"quantitative"},"x2":{"field":"x2"},"y":{"field":"yb","type":"quantitative"}}},
             {"data":{"name":"sig"},"transform":[{"filter":"datum.genus == 'unidentified_Lachnospiraceae'"}],
              "mark":{"type":"rule","color":"#666666","strokeWidth":1},
              "encoding":{"x":{"field":"x1","type":"quantitative"},"y":{"field":"yb","type":"quantitative"},"y2":{"field":"yt"}}},
             {"data":{"name":"sig"},"transform":[{"filter":"datum.genus == 'unidentified_Lachnospiraceae'"}],
              "mark":{"type":"rule","color":"#666666","strokeWidth":1},
              "encoding":{"x":{"field":"x2","type":"quantitative"},"y":{"field":"yb","type":"quantitative"},"y2":{"field":"yt"}}},
             {"data":{"name":"sig"},"transform":[{"filter":"datum.genus == 'unidentified_Lachnospiraceae'"}],
              "mark":{"type":"text","baseline":"bottom","dy":-0.5,"fontSize":8,"color":"#444444"},
              "encoding":{"x":{"field":"xm","type":"quantitative"},"y":{"field":"yb","type":"quantitative"},"text":{"field":"label"}}}
            ]}
          ]}
        ]}
      ]}
    ]}
  ]},
 {"width":1312,"height":592,"view":{"stroke":"#c8c8c8","strokeWidth":1},
  "data":{"values":[]},"mark":"point",
  "title":{"text":"FIGURE 3","subtitle":"Cecal microbiota composition analysis (heatmap A; and relative abundance of top 20 genera B) of goats fed different energy and protein levels.","orient":"bottom","anchor":"start","frame":"group","offset":-71,"dx":4,"baseline":"top","font":"Open Sans","fontSize":14,"fontWeight":"normal","color":"#808080","subtitleFont":"Open Sans","subtitleFontSize":18.3,"subtitleColor":"#555555","subtitlePadding":11}}
]
}
